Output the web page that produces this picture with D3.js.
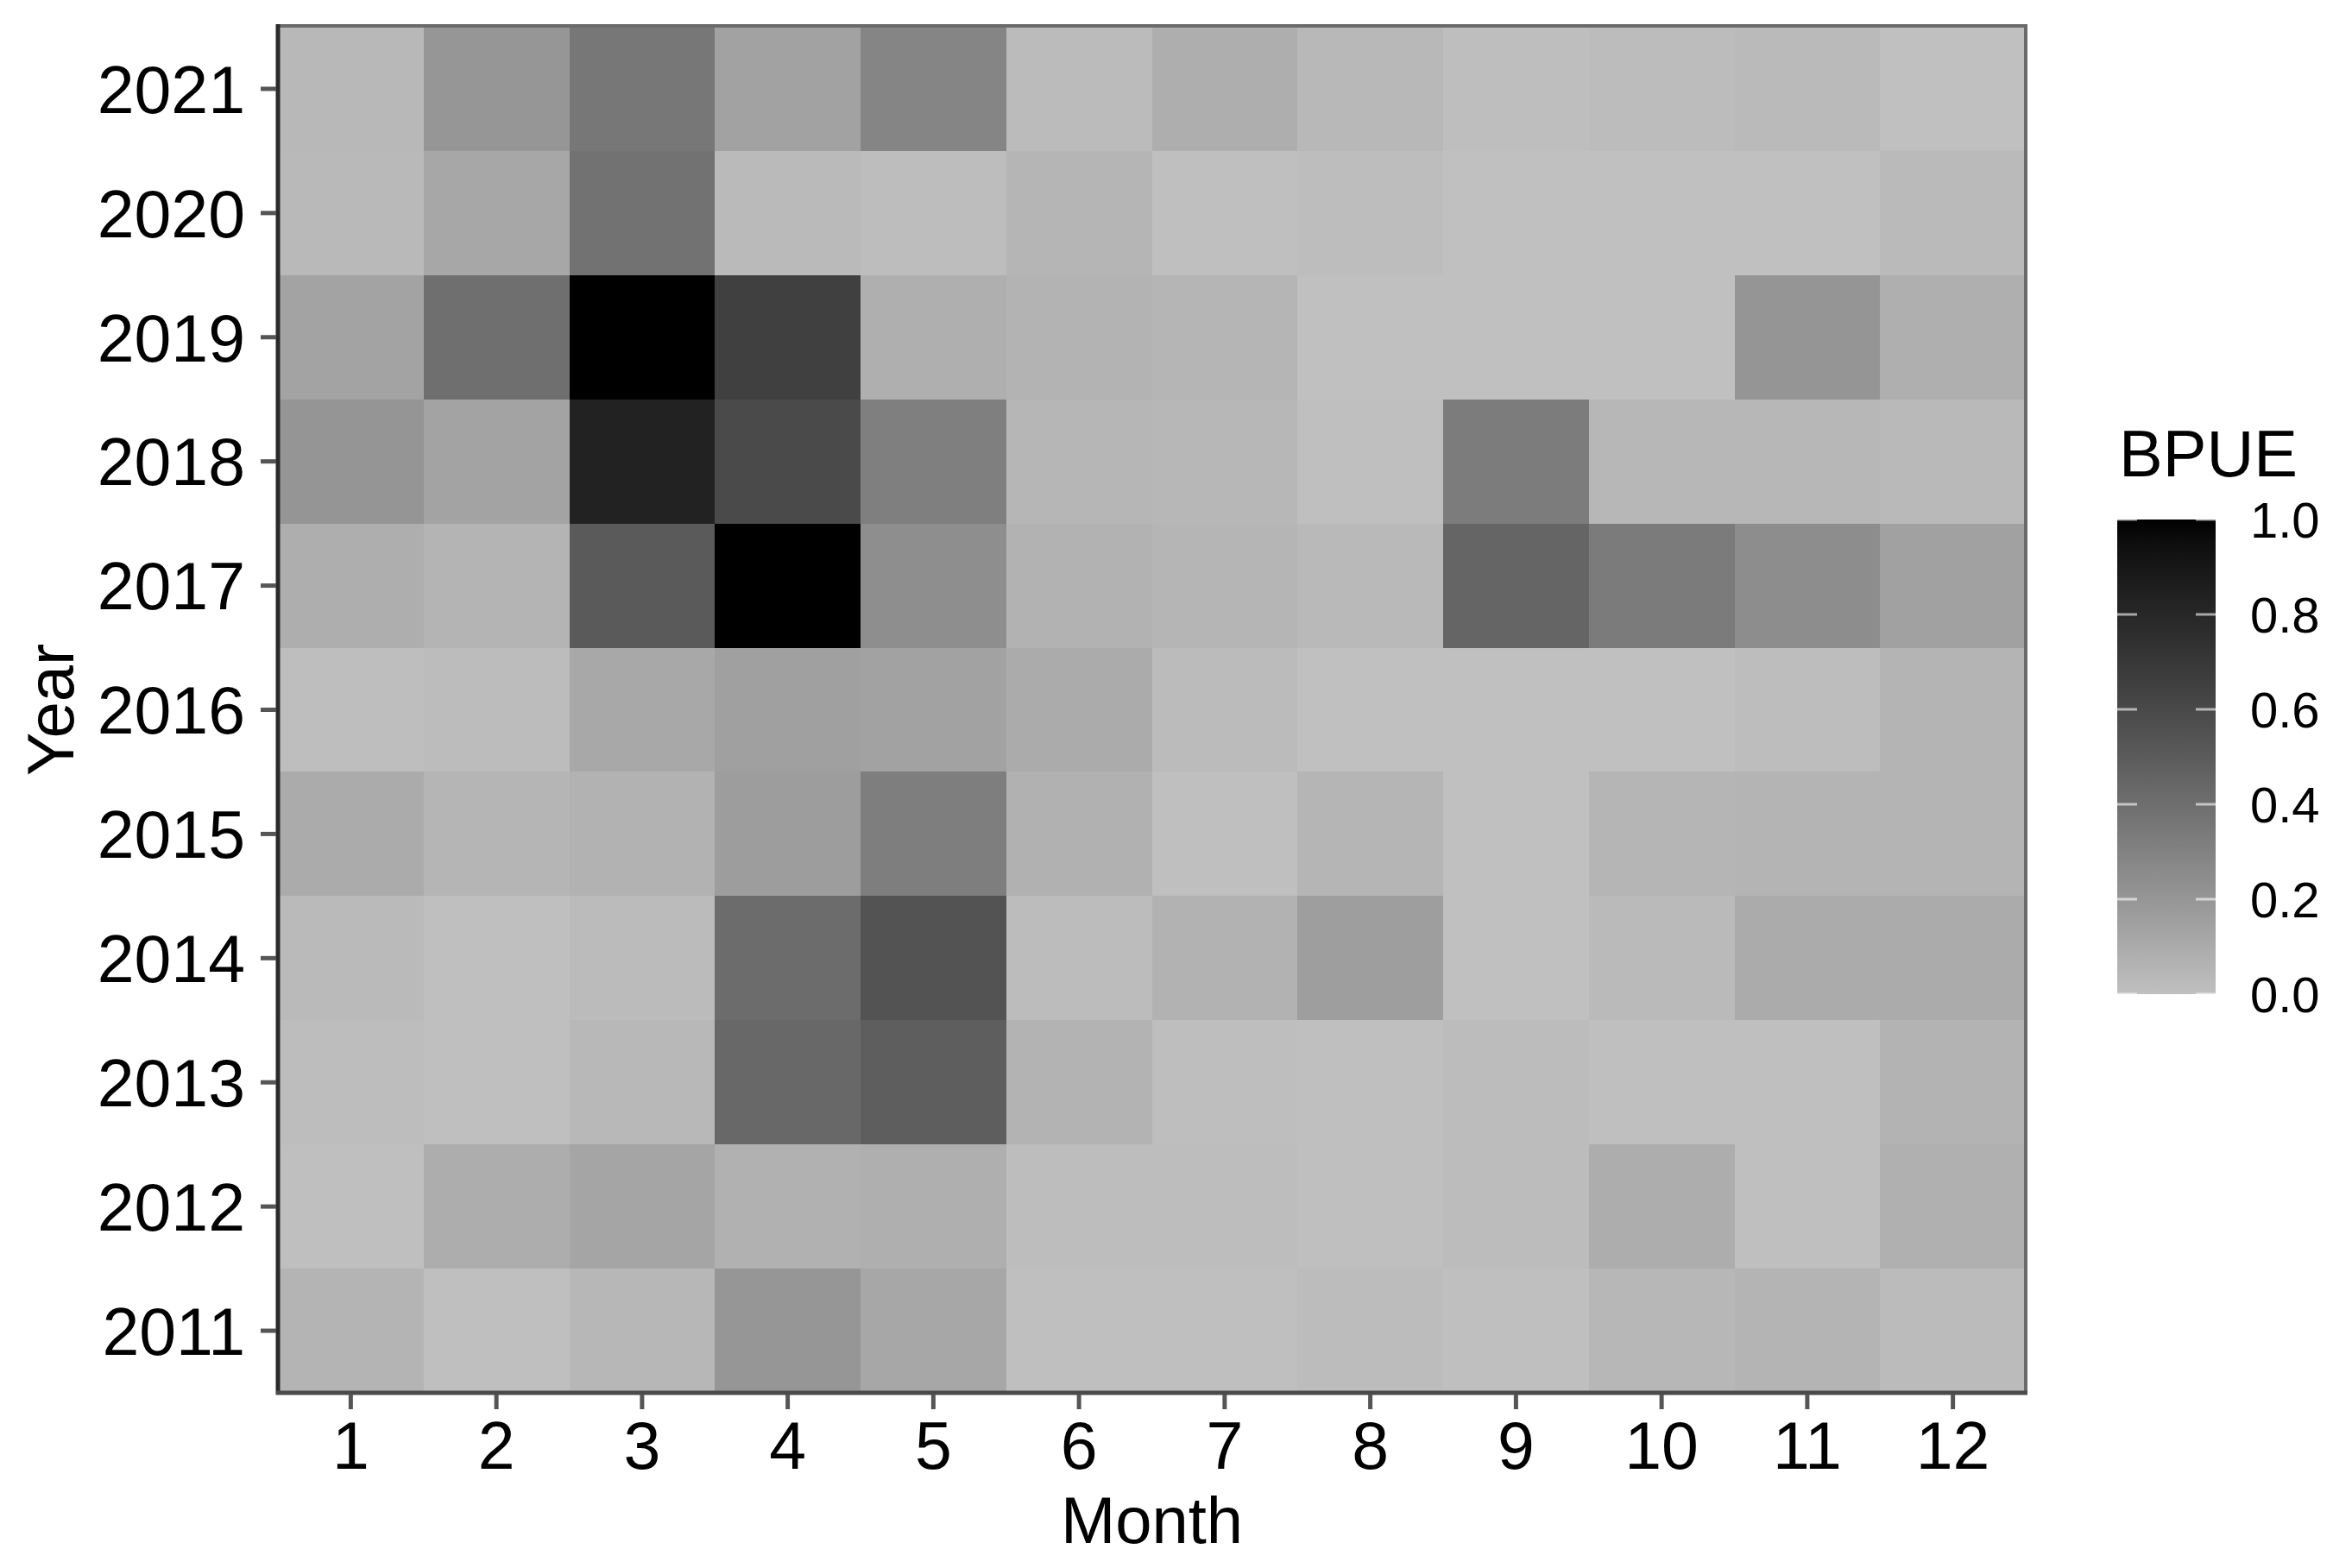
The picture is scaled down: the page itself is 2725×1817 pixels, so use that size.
<!DOCTYPE html>
<html>
<head>
<meta charset="utf-8">
<script src="https://cdn.jsdelivr.net/npm/d3@7"></script>
<style>
  body { margin: 0; background: #fff; }
  text { font-family: "Liberation Sans", Arial, sans-serif; fill: #000; }
  .tick-label { font-size: 77px; }
  .axis-title { font-size: 76px; }
  .legend-label { font-size: 58px; }
</style>
</head>
<body>
<svg width="2725" height="1817"></svg>
<script>
// **** data ****
var months = [1, 2, 3, 4, 5, 6, 7, 8, 9, 10, 11, 12];
var years = [2021, 2020, 2019, 2018, 2017, 2016, 2015, 2014, 2013, 2012, 2011];
var legendBreaks = [0, 0.2, 0.4, 0.6, 0.8, 1.0];

var bpue2021 = [0.038, 0.201, 0.356, 0.143, 0.285, 0.023, 0.085, 0.038, 0.010, 0.019, 0.028, 0.000];
var bpue2020 = [0.033, 0.119, 0.382, 0.028, 0.014, 0.052, 0.005, 0.014, 0.000, 0.000, 0.000, 0.028];
var bpue2019 = [0.138, 0.397, 1.000, 0.651, 0.080, 0.061, 0.052, 0.000, 0.000, 0.000, 0.206, 0.080];
var bpue2018 = [0.206, 0.138, 0.830, 0.595, 0.315, 0.047, 0.042, 0.005, 0.331, 0.042, 0.042, 0.033];
var bpue2017 = [0.085, 0.056, 0.508, 1.000, 0.240, 0.066, 0.052, 0.033, 0.449, 0.336, 0.245, 0.147];
var bpue2016 = [0.010, 0.019, 0.114, 0.152, 0.143, 0.099, 0.023, 0.000, 0.000, 0.000, 0.014, 0.056];
var bpue2015 = [0.099, 0.052, 0.066, 0.167, 0.320, 0.071, 0.005, 0.052, 0.000, 0.052, 0.056, 0.056];
var bpue2014 = [0.028, 0.005, 0.023, 0.413, 0.546, 0.019, 0.066, 0.162, 0.000, 0.028, 0.099, 0.099];
var bpue2013 = [0.014, 0.005, 0.038, 0.434, 0.486, 0.061, 0.010, 0.005, 0.019, 0.005, 0.005, 0.061];
var bpue2012 = [0.005, 0.090, 0.128, 0.071, 0.080, 0.014, 0.014, 0.005, 0.019, 0.090, 0.005, 0.075];
var bpue2011 = [0.056, 0.005, 0.042, 0.201, 0.119, 0.005, 0.005, 0.019, 0.005, 0.042, 0.056, 0.023];

var rows = [bpue2021, bpue2020, bpue2019, bpue2018, bpue2017, bpue2016,
            bpue2015, bpue2014, bpue2013, bpue2012, bpue2011];

var cells = [];
years.forEach(function (y, i) {
    months.forEach(function (m, j) {
        cells.push({ year: y, month: m, value: rows[i][j] });
    });
});

// **** scales ****
var plotLeft = 322, plotRight = 2347, plotTop = 31, plotBottom = 1614;

var xScale = d3.scaleBand()
    .domain(months)
    .range([plotLeft, plotRight])
    .padding(0);

var yScale = d3.scaleBand()
    .domain(years)
    .range([plotTop, plotBottom])
    .padding(0);

var fillScale = d3.scaleLinear()
    .domain([0, 1])
    .range(["#c0c0c0", "#000000"])
    .interpolate(d3.interpolateLab);

var svg = d3.select("svg");

// **** tiles ****
svg.append("g")
    .selectAll("rect")
    .data(cells)
    .enter()
    .append("rect")
        .attr("x", function (d) { return xScale(d.month); })
        .attr("y", function (d) { return yScale(d.year); })
        .attr("width", xScale.bandwidth() + 0.5)
        .attr("height", yScale.bandwidth() + 0.5)
        .attr("fill", function (d) { return fillScale(d.value); })
        .attr("shape-rendering", "crispEdges");

// **** panel border ****
svg.append("rect")
    .attr("x", plotLeft)
    .attr("y", plotTop - 1)
    .attr("width", plotRight - plotLeft)
    .attr("height", plotBottom - plotTop + 1)
    .attr("fill", "none")
    .attr("stroke", "#6a6a6a")
    .attr("stroke-width", 4);

svg.append("line")
    .attr("x1", plotLeft).attr("x2", plotLeft)
    .attr("y1", plotTop - 3).attr("y2", plotBottom + 2)
    .attr("stroke", "#2a2a2a")
    .attr("stroke-width", 5);

svg.append("line")
    .attr("x1", plotLeft - 2).attr("x2", plotRight + 2)
    .attr("y1", plotBottom).attr("y2", plotBottom)
    .attr("stroke", "#4a4a4a")
    .attr("stroke-width", 5);

// **** axes ****
var xAxis = svg.append("g")
    .attr("transform", "translate(0," + (plotBottom + 2) + ")")
    .call(d3.axisBottom(xScale).tickSize(17).tickPadding(14));

var yAxis = svg.append("g")
    .attr("transform", "translate(" + (plotLeft - 2) + ",0)")
    .call(d3.axisLeft(yScale).tickSize(18).tickPadding(18));

[xAxis, yAxis].forEach(function (ax) {
    ax.select(".domain").remove();
    ax.selectAll(".tick line")
        .attr("stroke", "#555")
        .attr("stroke-width", 5);
    ax.selectAll(".tick text")
        .attr("class", "tick-label")
        .attr("fill", "#000");
    ax.attr("font-family", null).attr("font-size", null);
});
xAxis.selectAll(".tick text").attr("dy", "0.71em");
yAxis.selectAll(".tick text").attr("dy", "0.36em");

svg.append("text")
    .attr("class", "axis-title")
    .attr("text-anchor", "middle")
    .attr("transform", "translate(" + ((plotLeft + plotRight) / 2) + ",1788)")
    .text("Month");

svg.append("text")
    .attr("class", "axis-title")
    .attr("text-anchor", "middle")
    .attr("transform", "translate(85," + ((plotTop + plotBottom) / 2) + ") rotate(-90)")
    .text("Year");

// **** legend ****
var barX = 2453, barW = 114, barTop = 602, barBottom = 1152;

var legScale = d3.scaleLinear()
    .domain([0, 1])
    .range([barBottom, barTop]);

var defs = svg.append("defs");
var grad = defs.append("linearGradient")
    .attr("id", "bpue-grad")
    .attr("x1", 0).attr("y1", 1)
    .attr("x2", 0).attr("y2", 0);
grad.selectAll("stop")
    .data(d3.range(0, 1.0001, 0.05))
    .enter()
    .append("stop")
        .attr("offset", function (d) { return d; })
        .attr("stop-color", function (d) { return fillScale(d); });

svg.append("text")
    .attr("class", "axis-title")
    .attr("x", 2455)
    .attr("y", 552)
    .text("BPUE");

svg.append("rect")
    .attr("x", barX)
    .attr("y", barTop)
    .attr("width", barW)
    .attr("height", barBottom - barTop)
    .attr("fill", "url(#bpue-grad)");

var legTicks = svg.append("g");
legendBreaks.forEach(function (b) {
    var y = legScale(b);
    legTicks.append("line")
        .attr("x1", barX).attr("x2", barX + 23)
        .attr("y1", y).attr("y2", y)
        .attr("stroke", "#fff").attr("stroke-opacity", 0.6)
        .attr("stroke-width", 3);
    legTicks.append("line")
        .attr("x1", barX + barW - 23).attr("x2", barX + barW)
        .attr("y1", y).attr("y2", y)
        .attr("stroke", "#fff").attr("stroke-opacity", 0.6)
        .attr("stroke-width", 3);
});

svg.append("g")
    .selectAll("text")
    .data(legendBreaks)
    .enter()
    .append("text")
        .attr("class", "legend-label")
        .attr("x", 2607)
        .attr("y", function (d) { return legScale(d); })
        .attr("dy", "0.36em")
        .text(function (d) { return d3.format(".1f")(d); });
</script>
</body>
</html>
